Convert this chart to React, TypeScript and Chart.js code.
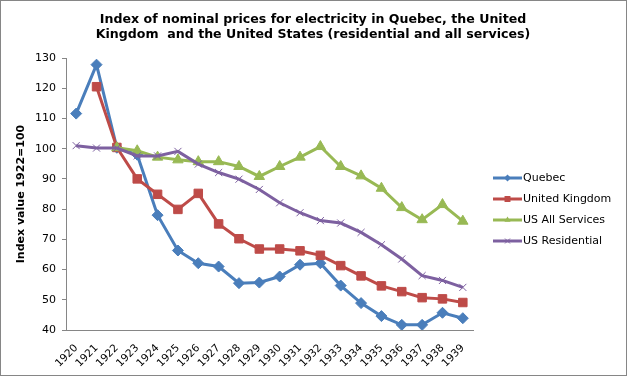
import React, { useEffect, useRef } from "react";
import { Chart, registerables } from "chart.js";

Chart.register(...registerables);

const years = ["1920","1921","1922","1923","1924","1925","1926","1927","1928","1929","1930","1931","1932","1933","1934","1935","1936","1937","1938","1939"];
const quebec = [111.6,127.8,100.3,98,78,66.3,62.1,61,55.5,55.7,57.7,61.6,62.1,54.7,48.9,44.6,41.7,41.7,45.7,43.9];
const unitedKingdom = [null,120.5,100.4,90,84.9,79.9,85.2,75.1,70.2,66.8,66.8,66.2,64.7,61.3,57.9,54.6,52.7,50.7,50.3,49.1];
const usAllServices = [null,null,100.3,99.3,97.2,96.3,95.7,95.7,94.1,90.8,94.1,97.2,100.7,94.1,91,86.9,80.5,76.5,81.5,76];
const usResidential = [101,100.2,100.2,97.6,97.6,99.1,94.9,92.1,89.9,86.5,82.1,78.8,76.2,75.4,72.3,68.2,63.5,58,56.4,54.1];

const titleLines = [
  "Index of nominal prices for electricity in Quebec, the United",
  "Kingdom  and the United States (residential and all services)",
];
const yTitle = "Index value 1922=100";

const FONT = "'DejaVu Sans', Verdana, sans-serif";

const seriesStyle = [
  { label: "Quebec", data: quebec, color: "#4A7EBB", point: "rectRot", radius: 5.5 },
  { label: "United Kingdom", data: unitedKingdom, color: "#BE4B48", point: "rect", radius: 6 },
  { label: "US All Services", data: usAllServices, color: "#98B954", point: "triangle", radius: 6 },
  { label: "US Residential", data: usResidential, color: "#7D60A0", point: "crossRot", radius: 5 },
];

function drawMarker(ctx: CanvasRenderingContext2D, kind: string, x: number, y: number, r: number, color: string) {
  ctx.save();
  ctx.fillStyle = color;
  ctx.strokeStyle = color;
  ctx.lineWidth = 1;
  ctx.beginPath();
  if (kind === "rectRot") {
    ctx.moveTo(x, y - r); ctx.lineTo(x + r, y); ctx.lineTo(x, y + r); ctx.lineTo(x - r, y); ctx.closePath(); ctx.fill();
  } else if (kind === "rect") {
    const s = r * 0.85;
    ctx.rect(x - s, y - s, 2 * s, 2 * s); ctx.fill();
  } else if (kind === "triangle") {
    ctx.moveTo(x, y - r); ctx.lineTo(x + r * 0.87, y + r * 0.5); ctx.lineTo(x - r * 0.87, y + r * 0.5); ctx.closePath(); ctx.fill();
  } else {
    const d = r * 0.7;
    ctx.moveTo(x - d, y - d); ctx.lineTo(x + d, y + d); ctx.moveTo(x + d, y - d); ctx.lineTo(x - d, y + d); ctx.stroke();
  }
  ctx.restore();
}

const decorPlugin = {
  id: "decor",
  beforeDraw(chart: any) {
    const ctx = chart.ctx as CanvasRenderingContext2D;
    ctx.save();
    ctx.fillStyle = "#ffffff";
    ctx.fillRect(0, 0, chart.width, chart.height);
    ctx.strokeStyle = "#868686";
    ctx.lineWidth = 1;
    ctx.strokeRect(0.5, 0.5, chart.width - 1, chart.height - 1);
    ctx.restore();
  },
  afterDraw(chart: any) {
    const ctx = chart.ctx as CanvasRenderingContext2D;
    ctx.save();
    ctx.fillStyle = "#000000";
    ctx.font = `bold 12.6px ${FONT}`;
    ctx.textAlign = "center";
    ctx.textBaseline = "middle";
    ctx.fillText(titleLines[0], 313, 20);
    ctx.fillText(titleLines[1], 313, 35);
    // legend
    ctx.font = `11px ${FONT}`;
    ctx.textAlign = "left";
    seriesStyle.forEach((s, i) => {
      const y = 178 + i * 21;
      ctx.strokeStyle = s.color;
      ctx.lineWidth = 3;
      ctx.beginPath();
      ctx.moveTo(493, y);
      ctx.lineTo(522, y);
      ctx.stroke();
      drawMarker(ctx, s.point, 507.5, y, 3.5, s.color);
      ctx.fillStyle = "#000000";
      ctx.fillText(s.label, 523, y + 0.5);
    });
    ctx.restore();
  },
};

export default function App() {
  const ref = useRef<HTMLCanvasElement>(null);
  useEffect(() => {
    if (!ref.current) return;
    const chart = new Chart(ref.current, {
      type: "line",
      data: {
        labels: years,
        datasets: seriesStyle.map((s, i) => ({
          label: s.label,
          data: s.data,
          borderColor: s.color,
          backgroundColor: s.color,
          borderWidth: 3,
          pointStyle: s.point as any,
          pointRadius: s.radius,
          pointBorderWidth: 1,
          pointBorderColor: s.color,
          pointBackgroundColor: s.color,
          tension: 0,
          spanGaps: false,
          order: 4 - i,
        })),
      },
      options: {
        responsive: false,
        animation: false,
        layout: { padding: { top: 58, right: 154, left: 0, bottom: 0 } },
        plugins: {
          legend: { display: false },
          title: { display: false },
          tooltip: { enabled: false },
        },
        scales: {
          x: {
            offset: true,
            grid: { display: false },
            border: { color: "#868686", width: 1 },
            ticks: {
              color: "#000000",
              font: { family: FONT, size: 10.5 },
              maxRotation: 45,
              minRotation: 45,
              autoSkip: false,
              padding: 4,
            },
            afterFit(scale: any) { scale.height = 46; },
          },
          y: {
            min: 40,
            max: 130,
            ticks: { stepSize: 10, color: "#000000", font: { family: FONT, size: 11 }, padding: 6 },
            grid: { display: true, drawOnChartArea: false, tickLength: 4, color: "#868686" },
            border: { color: "#868686", width: 1 },
            title: {
              display: true,
              text: yTitle,
              color: "#000000",
              font: { family: FONT, size: 11, weight: "bold" },
              padding: { top: 15, bottom: 0 },
            },
            afterFit(scale: any) { scale.width = 66; },
          },
        },
      },
      plugins: [decorPlugin],
    });
    return () => chart.destroy();
  }, []);
  return (
    <div style={{ position: "fixed", left: 0, top: 0, width: 627, height: 376 }}>
      <canvas ref={ref} width={627} height={376} />
    </div>
  );
}
